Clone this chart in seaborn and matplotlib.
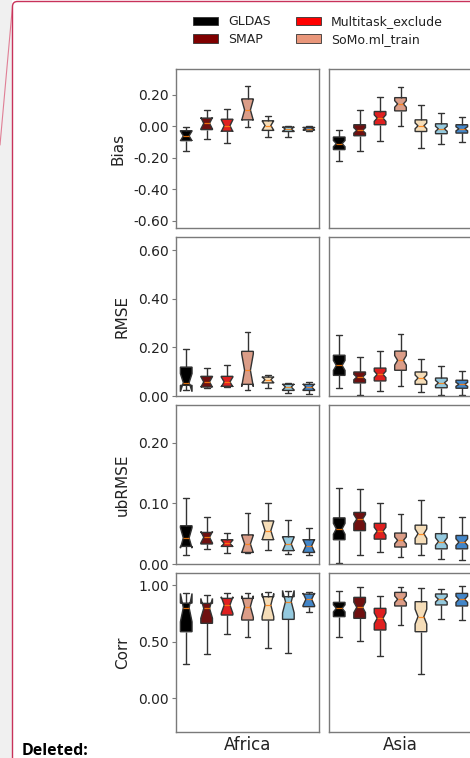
import numpy as np
import pandas as pd
import matplotlib
matplotlib.use("Agg")
import matplotlib.pyplot as plt
import seaborn as sns
from matplotlib.patches import Patch, FancyBboxPatch, Rectangle
from matplotlib.lines import Line2D
from matplotlib.transforms import IdentityTransform

# ---------------- data ----------------
models = ["GLDAS", "SMAP", "Multitask_exclude", "SoMo.ml_train",
          "Multitask_include", "Singletask", "Multitask_all"]
colors = ["#000000", "#7f0000", "#ff0000", "#e9967a",
          "#ffdfae", "#87ceeb", "#2b86e0"]
regions = ["Africa", "Asia"]
metrics = ["Bias", "RMSE", "ubRMSE", "Corr"]
# weight of each summary value (number of sites per statistic) by region
sites_weight = [2, 8]

# five-number summaries per model: [low whisker, q1, median, q3, high whisker]
bias_africa = [[-0.158, -0.090, -0.060, -0.027, -0.006],
               [-0.078, -0.020, 0.020, 0.053, 0.105],
               [-0.105, -0.030, 0.005, 0.046, 0.110],
               [-0.006, 0.042, 0.105, 0.175, 0.260],
               [-0.070, -0.025, 0.006, 0.036, 0.067],
               [-0.067, -0.032, -0.017, -0.004, 0.004],
               [-0.027, -0.023, -0.015, -0.006, 0.000]]
bias_asia = [[-0.221, -0.147, -0.109, -0.067, -0.021],
             [-0.156, -0.059, -0.025, 0.011, 0.105],
             [-0.093, 0.011, 0.053, 0.095, 0.185],
             [0.004, 0.099, 0.143, 0.183, 0.253],
             [-0.135, -0.032, 0.004, 0.042, 0.137],
             [-0.109, -0.046, -0.015, 0.017, 0.084],
             [-0.101, -0.042, -0.015, 0.011, 0.059]]
rmse_africa = [[0.026, 0.044, 0.055, 0.119, 0.195],
               [0.032, 0.037, 0.058, 0.081, 0.117],
               [0.037, 0.040, 0.058, 0.081, 0.126],
               [0.023, 0.048, 0.106, 0.184, 0.264],
               [0.033, 0.054, 0.067, 0.078, 0.085],
               [0.012, 0.023, 0.037, 0.048, 0.054],
               [0.010, 0.023, 0.037, 0.048, 0.058]]
rmse_asia = [[0.034, 0.085, 0.126, 0.168, 0.253],
             [0.005, 0.054, 0.078, 0.099, 0.161],
             [0.021, 0.062, 0.089, 0.115, 0.185],
             [0.040, 0.106, 0.147, 0.185, 0.254],
             [0.016, 0.048, 0.074, 0.099, 0.154],
             [0.003, 0.034, 0.054, 0.074, 0.122],
             [0.003, 0.032, 0.048, 0.065, 0.102]]
ubrmse_africa = [[0.015, 0.029, 0.043, 0.063, 0.109],
                 [0.025, 0.033, 0.044, 0.052, 0.077],
                 [0.018, 0.029, 0.034, 0.040, 0.051],
                 [0.018, 0.019, 0.033, 0.048, 0.084],
                 [0.023, 0.040, 0.055, 0.071, 0.100],
                 [0.017, 0.022, 0.033, 0.045, 0.073],
                 [0.015, 0.019, 0.030, 0.040, 0.059]]
ubrmse_asia = [[0.002, 0.040, 0.058, 0.076, 0.125],
               [0.015, 0.055, 0.074, 0.085, 0.124],
               [0.020, 0.041, 0.054, 0.067, 0.100],
               [0.011, 0.028, 0.039, 0.051, 0.082],
               [0.015, 0.033, 0.050, 0.064, 0.106],
               [0.008, 0.025, 0.037, 0.050, 0.077],
               [0.006, 0.025, 0.036, 0.047, 0.077]]
corr_africa = [[0.303, 0.588, 0.800, 0.840, 0.927],
               [0.391, 0.662, 0.794, 0.838, 0.912],
               [0.567, 0.735, 0.823, 0.882, 0.927],
               [0.544, 0.691, 0.810, 0.882, 0.930],
               [0.441, 0.691, 0.823, 0.897, 0.940],
               [0.397, 0.697, 0.853, 0.897, 0.945],
               [0.765, 0.809, 0.874, 0.920, 0.940]]
corr_asia = [[0.544, 0.721, 0.794, 0.847, 0.947],
             [0.506, 0.706, 0.803, 0.891, 0.985],
             [0.374, 0.603, 0.706, 0.794, 0.903],
             [0.647, 0.815, 0.874, 0.935, 0.979],
             [0.215, 0.588, 0.721, 0.853, 0.971],
             [0.697, 0.824, 0.874, 0.921, 0.962],
             [0.691, 0.815, 0.874, 0.926, 0.991]]

panels = [[bias_africa, bias_asia], [rmse_africa, rmse_asia],
          [ubrmse_africa, ubrmse_asia], [corr_africa, corr_asia]]
ylims = [(-0.645, 0.365), (0.0, 0.655), (0.0, 0.262), (-0.297, 1.106)]
yticks = [[-0.6, -0.4, -0.2, 0.0, 0.2], [0.0, 0.2, 0.4, 0.6],
          [0.0, 0.1, 0.2], [0.0, 0.5, 1.0]]

# ---------------- figure ----------------
sns.set_theme(style="white")
plt.rcParams["font.family"] = ["DejaVu Sans"]
W, H = 470, 758
fig = plt.figure(figsize=(W / 100, H / 100), dpi=100)
fig.patch.set_facecolor("white")

# document decorations (screenshot context)
fig.patches.append(Rectangle((0, 0), 12, H, transform=IdentityTransform(),
                             facecolor="#f0f0f0", edgecolor="none", zorder=-10))
fig.patches.append(FancyBboxPatch((12.5, -20), 500, H - 1.5 + 20,
                                  boxstyle="round,pad=0,rounding_size=5",
                                  transform=IdentityTransform(),
                                  facecolor="none", edgecolor="#c8325a",
                                  linewidth=1.0, zorder=-9))
fig.lines.append(Line2D([12.5, 0], [H - 6, H - 145], transform=IdentityTransform(),
                        color="#e07f95", linewidth=0.8, zorder=-9))
fig.text(22 / W, 1 - 751 / H, "Deleted:", fontsize=11.5, fontweight="bold",
         ha="left", va="center", color="black", family=["Open Sans", "DejaVu Sans"])

col_left = [176, 329]
ax_w = 143
row_top = [69, 237, 405, 573]
ax_h = 159
spine_col = "#7a7a7a"
line_col = "#333333"

for r, metric in enumerate(metrics):
    for c, region in enumerate(regions):
        ax = fig.add_axes([col_left[c] / W, 1 - (row_top[r] + ax_h) / H,
                           ax_w / W, ax_h / H])
        ax.set_facecolor("white")
        summaries = panels[r][c]
        rows = []
        for m, s in zip(models, summaries):
            for v in s:
                rows += [(m, v)] * sites_weight[c]
        df = pd.DataFrame(rows, columns=["model", "value"])
        sns.boxplot(data=df, x="model", y="value", hue="model",
                    order=models, hue_order=models, palette=colors,
                    width=0.57, notch=True, whis=(0, 100), showfliers=False,
                    linewidth=1.0, linecolor=line_col, legend=False, ax=ax,
                    medianprops=dict(color="#ff7f0e", linewidth=0.9, alpha=0.85))
        ax.set_xlim(-0.5, 6.5)
        ax.set_ylim(*ylims[r])
        ax.set_xticks([])
        for sp in ax.spines.values():
            sp.set_color(spine_col)
            sp.set_linewidth(1.0)
        if c == 0:
            ax.set_yticks(yticks[r])
            ax.set_yticklabels([f"{t:.2f}" for t in yticks[r]], fontsize=10,
                               color="#222222")
            ax.tick_params(axis="y", length=3, width=0.8, color=spine_col,
                           pad=2, left=True)
            ax.set_ylabel(metric, fontsize=11, color="#222222", labelpad=6)
        else:
            ax.set_yticks(yticks[r])
            ax.set_yticklabels([])
            ax.tick_params(axis="y", length=0)
            ax.set_ylabel("")
        if r == len(metrics) - 1:
            ax.set_xlabel(region, fontsize=12, color="#222222", labelpad=3)
        else:
            ax.set_xlabel("")

handles = [Patch(facecolor=col, edgecolor="#333333", linewidth=0.6, label=m)
           for m, col in zip(models[:4], colors[:4])]
fig.legend(handles=handles, ncol=2, loc="upper left",
           bbox_to_anchor=(182 / W, 1 - 4 / H), frameon=False, fontsize=9,
           labelspacing=0.35, handletextpad=0.8, columnspacing=2.0,
           labelcolor="#222222")

fig.savefig("out.png", dpi=100)
